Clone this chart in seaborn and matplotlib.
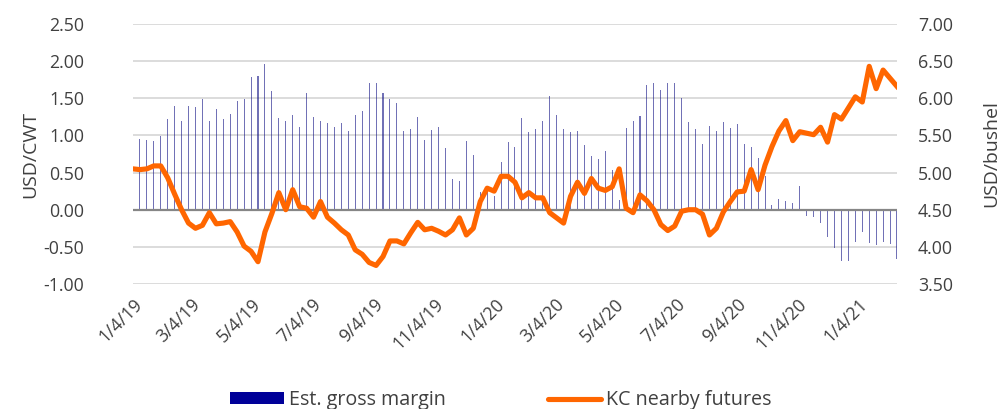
import pandas as pd
import matplotlib
matplotlib.use('Agg')
import matplotlib.pyplot as plt
import matplotlib.dates as mdates
from matplotlib.patches import Patch
from matplotlib.lines import Line2D
import seaborn as sns

# weekly observations starting 1/4/19
start_date = '2019-01-04'
n_weeks = 111

# estimated gross margin, USD/CWT (left axis)
gross_margin = [
    0.72, 0.95, 0.94, 0.93, 0.99, 1.22, 1.39, 1.20, 1.40, 1.38,
    1.49, 1.19, 1.36, 1.22, 1.29, 1.47, 1.49, 1.78, 1.80, 1.96,
    1.60, 1.24, 1.20, 1.27, 1.11, 1.57, 1.25, 1.19, 1.17, 1.11,
    1.17, 1.06, 1.28, 1.33, 1.70, 1.71, 1.57, 1.49, 1.43, 1.06,
    1.08, 1.25, 0.94, 1.07, 1.11, 0.83, 0.41, 0.38, 0.93, 0.74,
    0.24, 0.32, 0.18, 0.64, 0.91, 0.84, 1.24, 1.04, 1.09, 1.19,
    1.53, 1.28, 1.09, 1.04, 1.06, 0.87, 0.72, 0.68, 0.79, 0.54,
    0.13, 1.10, 1.20, 1.26, 1.68, 1.70, 1.61, 1.70, 1.70, 1.50,
    1.18, 1.09, 0.89, 1.13, 1.06, 1.18, 1.10, 1.15, 0.89, 0.85,
    0.69, 0.45, 0.07, 0.15, 0.12, 0.09, 0.32, -0.09, -0.10, -0.18,
    -0.37, -0.51, -0.69, -0.69, -0.43, -0.30, -0.45, -0.47, -0.44, -0.46,
    -0.66,
]

# KC nearby futures, USD/bushel (right axis)
kc_futures = [
    5.05, 5.04, 5.05, 5.09, 5.09, 4.93, 4.71, 4.50, 4.32, 4.25,
    4.29, 4.46, 4.31, 4.32, 4.34, 4.20, 4.01, 3.94, 3.80, 4.20,
    4.45, 4.73, 4.50, 4.77, 4.54, 4.52, 4.40, 4.61, 4.40, 4.32,
    4.23, 4.16, 3.96, 3.90, 3.79, 3.75, 3.87, 4.08, 4.08, 4.04,
    4.19, 4.33, 4.23, 4.25, 4.21, 4.16, 4.23, 4.39, 4.16, 4.25,
    4.61, 4.79, 4.75, 4.95, 4.95, 4.87, 4.66, 4.73, 4.66, 4.66,
    4.46, 4.39, 4.32, 4.68, 4.87, 4.72, 4.92, 4.79, 4.76, 4.81,
    5.05, 4.52, 4.46, 4.70, 4.62, 4.50, 4.30, 4.22, 4.28, 4.48,
    4.50, 4.50, 4.44, 4.16, 4.25, 4.47, 4.61, 4.74, 4.75, 5.04,
    4.77, 5.10, 5.35, 5.56, 5.70, 5.43, 5.55, 5.53, 5.51, 5.61,
    5.41, 5.78, 5.72, 5.87, 6.02, 5.95, 6.43, 6.13, 6.38, 6.27,
    6.16,
]

tick_labels = ['1/4/19', '3/4/19', '5/4/19', '7/4/19', '9/4/19', '11/4/19',
               '1/4/20', '3/4/20', '5/4/20', '7/4/20', '9/4/20', '11/4/20',
               '1/4/21']
left_ticks = [-1.0, -0.5, 0.0, 0.5, 1.0, 1.5, 2.0, 2.5]
right_ticks = [3.5, 4.0, 4.5, 5.0, 5.5, 6.0, 6.5, 7.0]

dates = pd.date_range(start_date, periods=n_weeks, freq='7D')
df = pd.DataFrame({'x': mdates.date2num(dates),
                   'margin': gross_margin,
                   'kc': kc_futures})

plt.rcParams['font.family'] = ['Open Sans', 'DejaVu Sans']
txt = '#404040'
bar_col = '#000099'
line_col = '#FF6600'

fig = plt.figure(figsize=(10.02, 4.09), dpi=100)
ax = fig.add_axes([0.1327, 0.3056, 0.8952 - 0.1327, 0.9413 - 0.3056])

sns.barplot(data=df, x='x', y='margin', native_scale=True, width=0.15,
            color=bar_col, alpha=0.6, errorbar=None, linewidth=0, ax=ax)
ax.axhline(0, color='#868686', lw=1.6, zorder=3)

ax2 = ax.twinx()
sns.lineplot(data=df, x='x', y='kc', color=line_col, linewidth=3.7, ax=ax2)

ax.set_xlim(df['x'].iloc[0], df['x'].iloc[-1])
ax.set_ylim(-1.0, 2.5)
ax2.set_ylim(3.5, 7.0)
ax.set_yticks(left_ticks)
ax.set_yticklabels([f'{v:.2f}' for v in left_ticks])
ax2.set_yticks(right_ticks)
ax2.set_yticklabels([f'{v:.2f}' for v in right_ticks])

tick_pos = mdates.date2num(pd.to_datetime(tick_labels, format='%m/%d/%y'))
ax.set_xticks(tick_pos)
ax.set_xticklabels(tick_labels, rotation=45, ha='right', rotation_mode='anchor')

ax.yaxis.grid(True, color='#d9d9d9', lw=1.3)
ax.set_axisbelow(True)
for a in (ax, ax2):
    for s in a.spines.values():
        s.set_visible(False)
    a.tick_params(length=0, labelsize=12.8, labelcolor=txt)
ax.tick_params(axis='y', pad=35)
ax.tick_params(axis='x', pad=8)
ax2.tick_params(axis='y', pad=15)

ax.set_xlabel('')
ax.set_ylabel('USD/CWT', fontsize=14, color=txt, va='center')
ax.yaxis.set_label_coords(-0.134, 0.5)
ax2.set_xlabel('')
ax2.set_ylabel('USD/bushel', fontsize=14, color=txt, rotation=90, va='center')
ax2.yaxis.set_label_coords(1.124, 0.5)

handles = [Patch(color=bar_col, linewidth=0),
           Line2D([0], [0], color=line_col, lw=3.7, solid_capstyle='round')]
fig.legend(handles, ['Est. gross margin', 'KC nearby futures'],
           loc='center', bbox_to_anchor=(0.5, 1 - 400 / 409), ncol=2,
           frameon=False, fontsize=14.2, labelcolor=txt, handlelength=2.7,
           handleheight=0.5, handletextpad=0.25, columnspacing=5.2)

fig.savefig('out.png', dpi=100)
